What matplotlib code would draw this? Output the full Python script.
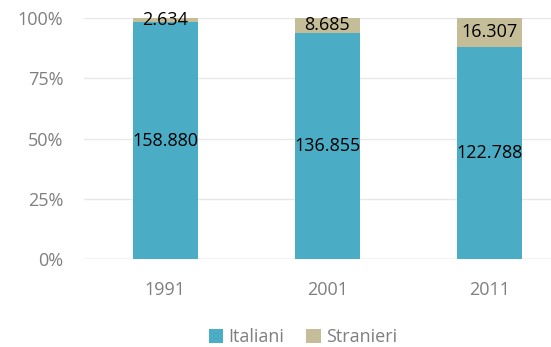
import matplotlib.pyplot as plt
import numpy as np

# census years and resident counts
years = ['1991', '2001', '2011']
italiani = [158880, 136855, 122788]
stranieri = [2634, 8685, 16307]
labels = ['Italiani', 'Stranieri']
colors = ['#4BACC6', '#C4BD97']

plt.rcParams['font.family'] = ['Open Sans', 'DejaVu Sans']

ita = np.array(italiani, dtype=float)
stra = np.array(stranieri, dtype=float)
tot = ita + stra
p_ita = ita / tot
p_stra = stra / tot

fig = plt.figure(figsize=(5.51, 3.47), dpi=100)
ax = fig.add_axes([84 / 551, 1 - 259 / 347, 1 - 84 / 551, (259 - 18.3) / 347])

x = np.arange(len(years))
b1 = ax.bar(x, p_ita, width=0.4, color=colors[0], label=labels[0], zorder=2)
b2 = ax.bar(x, p_stra, bottom=p_ita, width=0.4, color=colors[1], label=labels[1], zorder=2)

def fmt(v):
    return '{:,}'.format(v).replace(',', '.')

for xi, v, p in zip(x, italiani, p_ita):
    ax.text(xi, p / 2, fmt(v), ha='center', va='center', fontsize=13, color='black', zorder=3)
for xi, v, b, p in zip(x, stranieri, p_ita, p_stra):
    ax.text(xi, b + p / 2, fmt(v), ha='center', va='center', fontsize=13, color='black', zorder=3)

ax.set_xlim(-0.5, 2 + (551 - 489.5) / 162)
ax.set_ylim(0, 1)
ax.set_yticks([0, 0.25, 0.5, 0.75, 1.0])
ax.set_yticklabels(['0%', '25%', '50%', '75%', '100%'])
ax.set_xticks(x)
ax.set_xticklabels(years)
ax.tick_params(axis='both', length=0, labelsize=13, labelcolor='#7F7F7F')
ax.tick_params(axis='y', pad=15)
ax.tick_params(axis='x', pad=16)
ax.grid(axis='y', color='#E8E8E8', linewidth=1, zorder=0)
for s in ax.spines.values():
    s.set_visible(False)
ax.axhline(0, color='#E0E0E0', linewidth=1, zorder=1)

fig.legend(handles=[b1, b2], labels=labels, loc='center', bbox_to_anchor=(303 / 551, 1 - 337 / 347),
           ncol=2, frameon=False, fontsize=13, handlelength=0.8, handleheight=0.8,
           handletextpad=0.3, columnspacing=1.2, labelcolor='#7F7F7F')

fig.savefig('out.png', dpi=100)
